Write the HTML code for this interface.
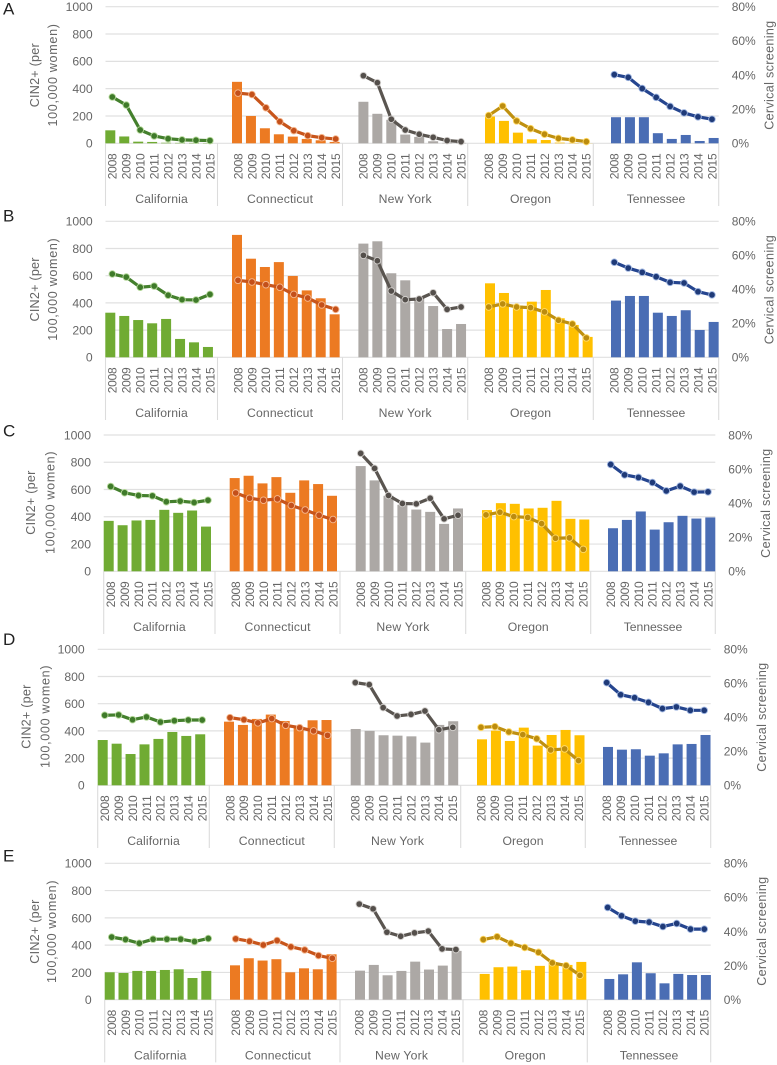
<!DOCTYPE html>
<html lang="en">
<head>
<meta charset="utf-8">
<title>CIN2+ and cervical screening by state</title>
<style>
html,body{margin:0;padding:0;background:#fff;}
svg{display:block;font-family:"Liberation Sans",sans-serif;}
text{fill:#666666;}
</style>
</head>
<body>
<svg id="chart" width="777" height="1065" viewBox="0 0 777 1065" xmlns="http://www.w3.org/2000/svg"></svg>
<script>
const states = ["California", "Connecticut", "New York", "Oregon", "Tennessee"];
const years = ["2008", "2009", "2010", "2011", "2012", "2013", "2014", "2015"];
const leftTicks = [0, 200, 400, 600, 800, 1000];
const rightTicks = [0, 20, 40, 60, 80];
const leftTitleLines = ["CIN2+ (per", "100,000 women)"];
const rightTitle = "Cervical screening";

const cin2A = [
  [95, 50, 12, 10, 4, 3, 3, 2],
  [450, 200, 110, 66, 49, 32, 22, 10],
  [304, 216, 172, 64, 47, 15, 3, 3],
  [196, 164, 78, 29, 24, 5, 2, 1],
  [191, 191, 191, 74, 32, 61, 17, 39]
];
const screenA = [
  [27.1, 22.4, 7.8, 4.3, 2.7, 2, 1.8, 1.6],
  [29.4, 28.6, 20.8, 12.7, 7.4, 4.5, 3.3, 2.5],
  [39.6, 35.5, 14.1, 7.8, 5.3, 3.5, 1.6, 1],
  [16.3, 21.8, 13.1, 8.6, 5.3, 2.9, 2, 1],
  [40.2, 38.6, 32.1, 26.9, 21.6, 17.8, 15.5, 14.1]
];
const cin2B = [
  [328, 304, 274, 250, 282, 135, 110, 76],
  [900, 725, 664, 700, 598, 492, 434, 316],
  [836, 853, 618, 566, 440, 377, 208, 245],
  [544, 473, 380, 409, 495, 287, 238, 150],
  [417, 451, 451, 328, 304, 346, 201, 260]
];
const screenB = [
  [49, 47.2, 41.2, 41.9, 36.5, 33.9, 33.7, 37],
  [45.3, 44.3, 42.7, 41.2, 37, 34.9, 30.8, 28.2],
  [60, 56.8, 39, 33.9, 34.3, 38, 28.2, 29.6],
  [29.6, 31.4, 29.6, 29.2, 26.7, 21.8, 19.6, 11.4],
  [55.9, 52.5, 50, 47.4, 44.1, 43.7, 38.6, 36.7]
];
const cin2C = [
  [370, 338, 373, 377, 451, 429, 446, 328],
  [684, 701, 645, 691, 576, 667, 640, 554],
  [772, 667, 554, 488, 453, 436, 348, 461],
  [449, 500, 495, 461, 466, 517, 385, 380],
  [316, 377, 439, 306, 360, 407, 387, 395]
];
const screenC = [
  [49.8, 46.1, 44.5, 44.3, 40.8, 41.2, 40.4, 41.7],
  [46, 42.9, 41.7, 42.5, 38.6, 36, 32.9, 30.4],
  [69.2, 60.4, 44.5, 39.8, 39.6, 42.9, 30.8, 32.9],
  [33.1, 34.7, 32.1, 31.6, 28, 19.4, 19.6, 12.9],
  [62.7, 56.6, 55.1, 52.1, 47.2, 50, 46.5, 46.6]
];
const cin2D = [
  [333, 306, 230, 301, 341, 392, 363, 375],
  [468, 444, 488, 520, 473, 431, 478, 480],
  [414, 400, 368, 365, 360, 314, 444, 471],
  [338, 402, 326, 424, 292, 370, 407, 368],
  [282, 262, 265, 218, 235, 301, 304, 370]
];
const screenD = [
  [41.2, 41.4, 38.6, 40.2, 37.2, 38, 38.4, 38.4],
  [39.8, 38.6, 36.7, 39.2, 35.3, 33.9, 32, 29.4],
  [60.4, 59.2, 45.7, 40.8, 41.7, 43.7, 32.7, 34.1],
  [34.1, 34.5, 31.4, 29.8, 27.4, 20.8, 21.4, 14.5],
  [60.4, 53.3, 51.5, 48.8, 45.1, 46.1, 44.1, 44.1]
];
const cin2E = [
  [201, 196, 211, 211, 218, 223, 159, 211],
  [252, 304, 287, 297, 201, 230, 223, 333],
  [213, 255, 179, 211, 279, 221, 250, 358],
  [189, 238, 243, 216, 248, 267, 255, 277],
  [152, 186, 274, 194, 120, 189, 181, 181]
];
const screenE = [
  [36.7, 35.3, 33.1, 35.5, 35.5, 35.5, 34.1, 35.9],
  [35.7, 34.3, 32.1, 34.7, 31, 29.2, 25.9, 24.3],
  [56.1, 53.3, 39.6, 37.2, 39.2, 40.2, 29.8, 29.4],
  [35.3, 36.9, 33.1, 30.6, 27.8, 21.6, 20, 14.3],
  [54.1, 49.2, 46.1, 45.5, 42.9, 44.7, 41.4, 41.4]
];

const leftMax = 1000;
const rightMax = 80;
const barFill = ["#70AB33", "#EC7A22", "#ACA8A5", "#FFC000", "#4A6DB4"];
const lineStroke = ["#44802D", "#C8551B", "#5A5550", "#BF9010", "#25458F"];
const markerFill = ["#3F7A2A", "#C4501A", "#544F4B", "#BC8C0E", "#1F3A78"];
const markerRing = ["#B5D89A", "#F5B88F", "#D2CFCC", "#FFD966", "#9DB4E0"];
const stateLabelWidths = [52.5, 66, 53, 41, 58.5];

const layouts = [
  { letter: "A", letterY: 14.7, top: 6.7, base: 143.3, left: 105.5, right: 718.7, step: 13.95,
    dividers: [105.5, 217.5, 342.5, 467.7, 593.3, 718.7],
    barStart: [110.3, 237, 363.4, 490, 616], lineStart: [112.3, 238, 363.4, 488.7, 614.3],
    leftLabelX: 92.7, rightLabelX: 731.7, title1X: 34.3, title2X: 52.3, titleCy: 75.3, rTitleX: 769, rTitleCy: 75.3,
    cin2: cin2A, screen: screenA },
  { letter: "B", letterY: 221.7, top: 221.3, base: 357.3, left: 105.5, right: 718.7, step: 13.95,
    dividers: [105.5, 217.5, 342.5, 467.7, 593.3, 718.7],
    barStart: [110.3, 237, 363.4, 490, 616], lineStart: [112.3, 238, 363.4, 488.7, 614.3],
    leftLabelX: 92.7, rightLabelX: 731.7, title1X: 34.3, title2X: 52.3, titleCy: 289.5, rTitleX: 769, rTitleCy: 289.7,
    cin2: cin2B, screen: screenB },
  { letter: "C", letterY: 436.7, top: 435, base: 571.3, left: 103.7, right: 715.3, step: 13.9,
    dividers: [103.7, 215, 340, 465.7, 590.7, 715.3],
    barStart: [108.7, 234.7, 360.7, 487, 613], lineStart: [110.7, 235.7, 360.7, 486, 610.7],
    leftLabelX: 91, rightLabelX: 728.3, title1X: 30.3, title2X: 50, titleCy: 502.7, rTitleX: 765.7, rTitleCy: 503.3,
    cin2: cin2C, screen: screenC },
  { letter: "D", letterY: 645, top: 649.3, base: 785.3, left: 97.7, right: 710.7, step: 13.93,
    dividers: [97.7, 209.3, 334.3, 460.7, 585.3, 710.7],
    barStart: [102.7, 229, 355.7, 482, 608], lineStart: [104.7, 230, 355.3, 481, 606.7],
    leftLabelX: 84.7, rightLabelX: 723.7, title1X: 26, title2X: 45, titleCy: 716.7, rTitleX: 761.3, rTitleCy: 717.3,
    cin2: cin2D, screen: screenD },
  { letter: "E", letterY: 861.7, top: 863.3, base: 999.7, left: 104.7, right: 710.7, step: 13.8,
    dividers: [104.7, 215.7, 340, 463, 587.3, 710.7],
    barStart: [109.7, 235, 360, 484.7, 609.3], lineStart: [111.7, 235.7, 359.3, 483.3, 607.7],
    leftLabelX: 91.7, rightLabelX: 723.7, title1X: 34.3, title2X: 51.7, titleCy: 931.7, rTitleX: 761.3, rTitleCy: 931.3,
    cin2: cin2E, screen: screenE }
];

const NS = "http://www.w3.org/2000/svg";
const root = document.getElementById("chart");

function make(parent, tag, attrs, content) {
  const node = document.createElementNS(NS, tag);
  for (const key in attrs) node.setAttribute(key, attrs[key]);
  if (content !== undefined) node.textContent = content;
  parent.appendChild(node);
  return node;
}

function drawPanel(p) {
  const h = p.base - p.top;
  const yLeft = v => p.base - (v / leftMax) * h;
  const yRight = v => p.base - (v / rightMax) * h;
  const xBar = (g, i) => p.barStart[g] + i * p.step;
  const xLine = (g, i) => p.lineStart[g] + i * p.step;
  const id = p.letter.toLowerCase();

  const panel = make(root, "g", {});
  
  

  const letter = make(panel, "text", { x: 3, y: p.letterY, "font-size": 17, style: "fill:#222" }, p.letter);
  
  

  leftTicks.forEach(t => {
    const y = yLeft(t);
    const grid = make(panel, "line", { x1: p.left, x2: p.right, y1: y, y2: y, stroke: "#E0E0E0", "stroke-width": 1.2 });
    
    
    const label = make(panel, "text", { x: p.leftLabelX, y: y, dy: "0.36em", "text-anchor": "end", "font-size": 12.2 }, String(t));
    
    
  });

  rightTicks.forEach(t => {
    const label = make(panel, "text", { x: p.rightLabelX, y: yRight(t), dy: "0.36em", "font-size": 12 }, t + "%");
    
    
  });

  const t1 = make(panel, "text", { x: p.title1X, y: p.titleCy, dy: "0.36em", "text-anchor": "middle", "font-size": 12.6, textLength: 64,
    transform: "rotate(-90 " + p.title1X + " " + p.titleCy + ")" }, leftTitleLines[0]);
  
  
  const t2 = make(panel, "text", { x: p.title2X, y: p.titleCy, dy: "0.36em", "text-anchor": "middle", "font-size": 12.6, textLength: 102.5,
    transform: "rotate(-90 " + p.title2X + " " + p.titleCy + ")" }, leftTitleLines[1]);
  
  
  const t3 = make(panel, "text", { x: p.rTitleX, y: p.rTitleCy, dy: "0.36em", "text-anchor": "middle", "font-size": 12.6, textLength: 109,
    transform: "rotate(-90 " + p.rTitleX + " " + p.rTitleCy + ")" }, rightTitle);
  
  

  p.dividers.forEach((x, d) => {
    const div = make(panel, "line", { x1: x, x2: x, y1: p.base, y2: p.base + 62.7, stroke: "#DCDCDC", "stroke-width": 1.1 });
    
    
  });

  states.forEach((state, g) => {
    const slug = state.toLowerCase().replace(/ /g, "-");
    const group = make(panel, "g", {});
    
    

    p.cin2[g].forEach((v, i) => {
      const y = yLeft(v);
      const bar = make(group, "rect", { x: xBar(g, i) - 5, y: y, width: 10, height: p.base - y, fill: barFill[g] });
      
      
    });

    const points = p.screen[g].map((v, i) => xLine(g, i) + "," + yRight(v)).join(" ");
    const line = make(group, "polyline", { points: points, fill: "none", stroke: lineStroke[g], "stroke-width": 3.2, "stroke-linejoin": "round" });
    
    

    p.screen[g].forEach((v, i) => {
      const dot = make(group, "circle", { cx: xLine(g, i), cy: yRight(v), r: 3.3, fill: markerFill[g], stroke: markerRing[g], "stroke-width": 0.9 });
      
      
    });

    years.forEach((yr, i) => {
      const x = xLine(g, i);
      const yb = p.base + 10;
      const tick = make(group, "text", { x: x, y: yb, dy: "0.36em", "text-anchor": "end", "font-size": 12, textLength: 26,
        transform: "rotate(-90 " + x + " " + yb + ")" }, yr);
      
      
    });

    const cx = (p.dividers[g] + p.dividers[g + 1]) / 2;
    const name = make(group, "text", { x: cx, y: p.base + 55.3, dy: "0.36em", "text-anchor": "middle", "font-size": 12.2, textLength: stateLabelWidths[g] }, state);
    
    
  });
}

layouts.forEach(drawPanel);
</script>
</body>
</html>
